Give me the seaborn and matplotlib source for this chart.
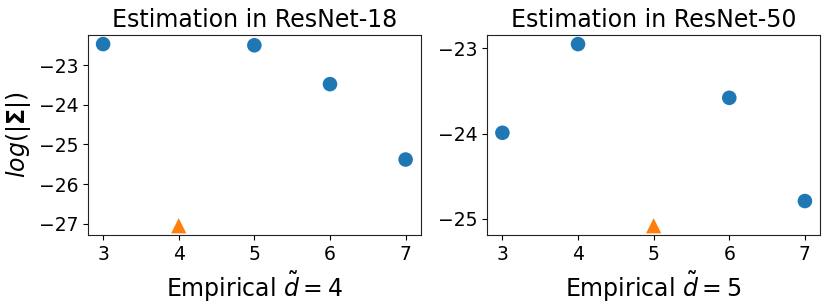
import matplotlib
matplotlib.use("Agg")
import matplotlib.pyplot as plt
from matplotlib.ticker import MultipleLocator
import pandas as pd
import seaborn as sns

# candidate dims
dims = [3, 4, 5, 6, 7]

# ResNet-18 log determinant values (the empirical dim 4 is the triangle)
r18_values = [-22.47, -27.05, -22.50, -23.48, -25.38]
r18_empirical = 4

# ResNet-50
r50_values = [-23.99, -22.95, -25.08, -23.58, -24.79]
r50_empirical = 5

titles = ["Estimation in ResNet-18", "Estimation in ResNet-50"]


def make_frame(values, empirical):
    df = pd.DataFrame({"dim": dims, "value": values})
    df["kind"] = ["empirical" if d == empirical else "other" for d in dims]
    return df


def draw_panel(ax, df, title, empirical):
    others = df[df["kind"] == "other"]
    emp = df[df["kind"] == "empirical"]
    sns.scatterplot(data=others, x="dim", y="value", ax=ax, color="#1f77b4",
                    marker="o", s=110, edgecolor="none")
    sns.scatterplot(data=emp, x="dim", y="value", ax=ax, color="#ff7f0e",
                    marker="^", s=120, edgecolor="none")
    ax.set_title(title, fontsize=17)
    ax.set_xlabel(r"Empirical $\tilde{d}=%d$" % empirical, fontsize=17)
    ax.set_ylabel("")
    ax.set_xticks(dims)
    ax.yaxis.set_major_locator(MultipleLocator(1))
    ax.tick_params(labelsize=13.5, colors="black")


def main() -> None:
    sns.set_style("ticks", {"text.color": "black", "axes.labelcolor": "black",
                            "xtick.color": "black", "ytick.color": "black",
                            "axes.edgecolor": "#222222"})
    fig, axes = plt.subplots(1, 2, figsize=(8.3, 3.07), dpi=100)
    fig.subplots_adjust(left=0.106, right=0.988, bottom=0.235, top=0.886, wspace=0.2)

    draw_panel(axes[0], make_frame(r18_values, r18_empirical), titles[0], r18_empirical)
    draw_panel(axes[1], make_frame(r50_values, r50_empirical), titles[1], r50_empirical)
    axes[0].set_ylabel(r"$log(|\mathbf{\Sigma}|)$", fontsize=17)

    fig.savefig("out.png", dpi=100)
    plt.close(fig)


if __name__ == "__main__":
    main()
